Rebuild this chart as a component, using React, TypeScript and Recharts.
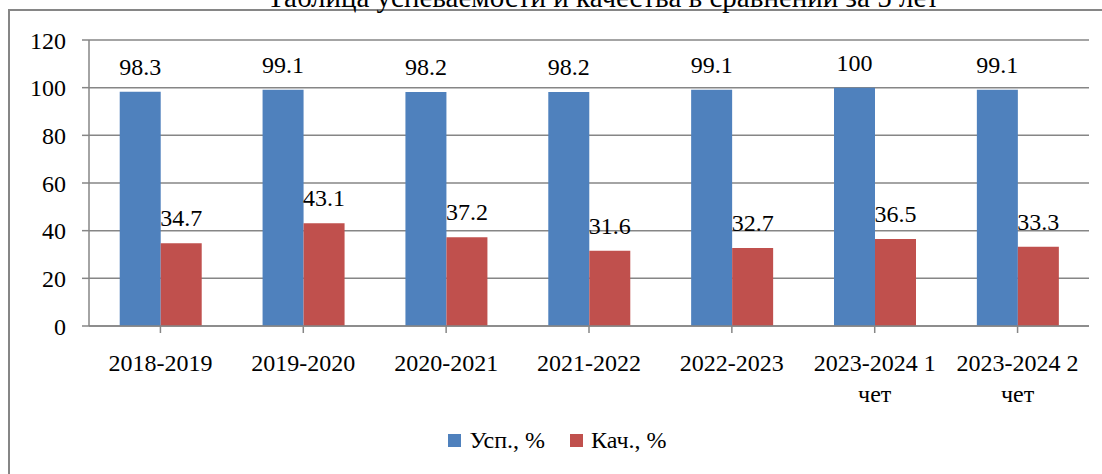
import { Bar, BarChart, CartesianGrid, LabelList, Legend, XAxis, YAxis } from "recharts";

const YEARS = [
  "2018-2019",
  "2019-2020",
  "2020-2021",
  "2021-2022",
  "2022-2023",
  "2023-2024 1 чет",
  "2023-2024 2 чет"
];
const SUCCESS = [98.3, 99.1, 98.2, 98.2, 99.1, 100, 99.1];
const QUALITY = [34.7, 43.1, 37.2, 31.6, 32.7, 36.5, 33.3];
const Y_TICKS = [0, 20, 40, 60, 80, 100, 120];
const TITLE = "Таблица успеваемости и качества в сравнении за 5 лет";

const SERIES = [
  { key: "success", name: "Усп., %", color: "#4F81BD" },
  { key: "quality", name: "Кач., %", color: "#C0504D" }
];

const data = YEARS.map((year, i) => ({ year, success: SUCCESS[i], quality: QUALITY[i] }));

const FONT = "Liberation Serif, DejaVu Serif, Times New Roman, Times, serif";
const FONT_SIZE = 24;
const GRID = "#868686";

// split a label into lines that fit the category width
function wrapLabel(label: string, maxWidth: number) {
  const canvas = document.createElement("canvas");
  const ctx = canvas.getContext("2d");
  if (!ctx) return [label];
  ctx.font = `${FONT_SIZE}px ${FONT}`;
  const words = label.split(" ");
  const lines: string[] = [];
  let cur = "";
  for (const w of words) {
    const next = cur ? cur + " " + w : w;
    if (cur && ctx.measureText(next).width > maxWidth) {
      lines.push(cur);
      cur = w;
    } else {
      cur = next;
    }
  }
  if (cur) lines.push(cur);
  return lines;
}

function YearTick({ x, y, payload }: any) {
  const lines = wrapLabel(String(payload.value), 140);
  return (
    <text x={x} y={y + 36} textAnchor="middle" fontFamily={FONT} fontSize={FONT_SIZE} fill="#000">
      {lines.map((line, i) => (
        <tspan key={i} x={x} dy={i === 0 ? 0 : 31}>
          {line}
        </tspan>
      ))}
    </text>
  );
}

function LegendBox() {
  return (
    <div style={{ display: "flex", justifyContent: "center", gap: 25, fontFamily: FONT, fontSize: FONT_SIZE }}>
      {SERIES.map((s) => (
        <div key={s.key} style={{ display: "flex", alignItems: "center", gap: 8 }}>
          <span style={{ width: 13, height: 13, background: s.color, display: "inline-block" }} />
          <span style={{ color: "#000" }}>{s.name}</span>
        </div>
      ))}
    </div>
  );
}

export default function App() {
  return (
    <div style={{ position: "absolute", left: 0, top: 0, width: 1102, height: 474, overflow: "hidden", background: "#fff" }}>
      <div
        style={{
          position: "absolute",
          left: 8,
          top: 9,
          width: 1300,
          height: 700,
          borderLeft: `2px solid ${GRID}`,
          borderTop: `2px solid ${GRID}`
        }}
      />
      <svg style={{ position: "absolute", left: 0, top: 0 }} width={1102} height={20}>
        <text x={603} y={7} textAnchor="middle" fontFamily={FONT} fontSize={29} fill="#000">
          {TITLE}
        </text>
      </svg>
      <div style={{ position: "absolute", left: 0, top: 0 }}>
        <BarChart
          width={1102}
          height={474}
          data={data}
          margin={{ top: 40, right: 13, left: 8, bottom: 33 }}
          barCategoryGap="21.5%"
          barGap={0}
        >
          <CartesianGrid vertical={false} stroke={GRID} strokeWidth={1.5} />
          <XAxis
            dataKey="year"
            interval={0}
            height={88}
            stroke={GRID}
            strokeWidth={1.5}
            tickSize={7}
            tick={<YearTick />}
          />
          <YAxis
            domain={[0, 120]}
            ticks={Y_TICKS}
            width={81}
            stroke={GRID}
            strokeWidth={1.5}
            tickSize={7}
            tick={{ fill: "#000", fontFamily: FONT, fontSize: FONT_SIZE }}
            tickMargin={16}
          />
          <Legend verticalAlign="bottom" content={<LegendBox />} wrapperStyle={{ left: 17, bottom: 20 }} />
          {SERIES.map((s) => (
            <Bar key={s.key} dataKey={s.key} name={s.name} fill={s.color} isAnimationActive={false}>
              <LabelList
                dataKey={s.key}
                position="top"
                offset={17}
                style={{ fill: "#000", fontFamily: FONT, fontSize: FONT_SIZE }}
              />
            </Bar>
          ))}
        </BarChart>
      </div>
    </div>
  );
}
